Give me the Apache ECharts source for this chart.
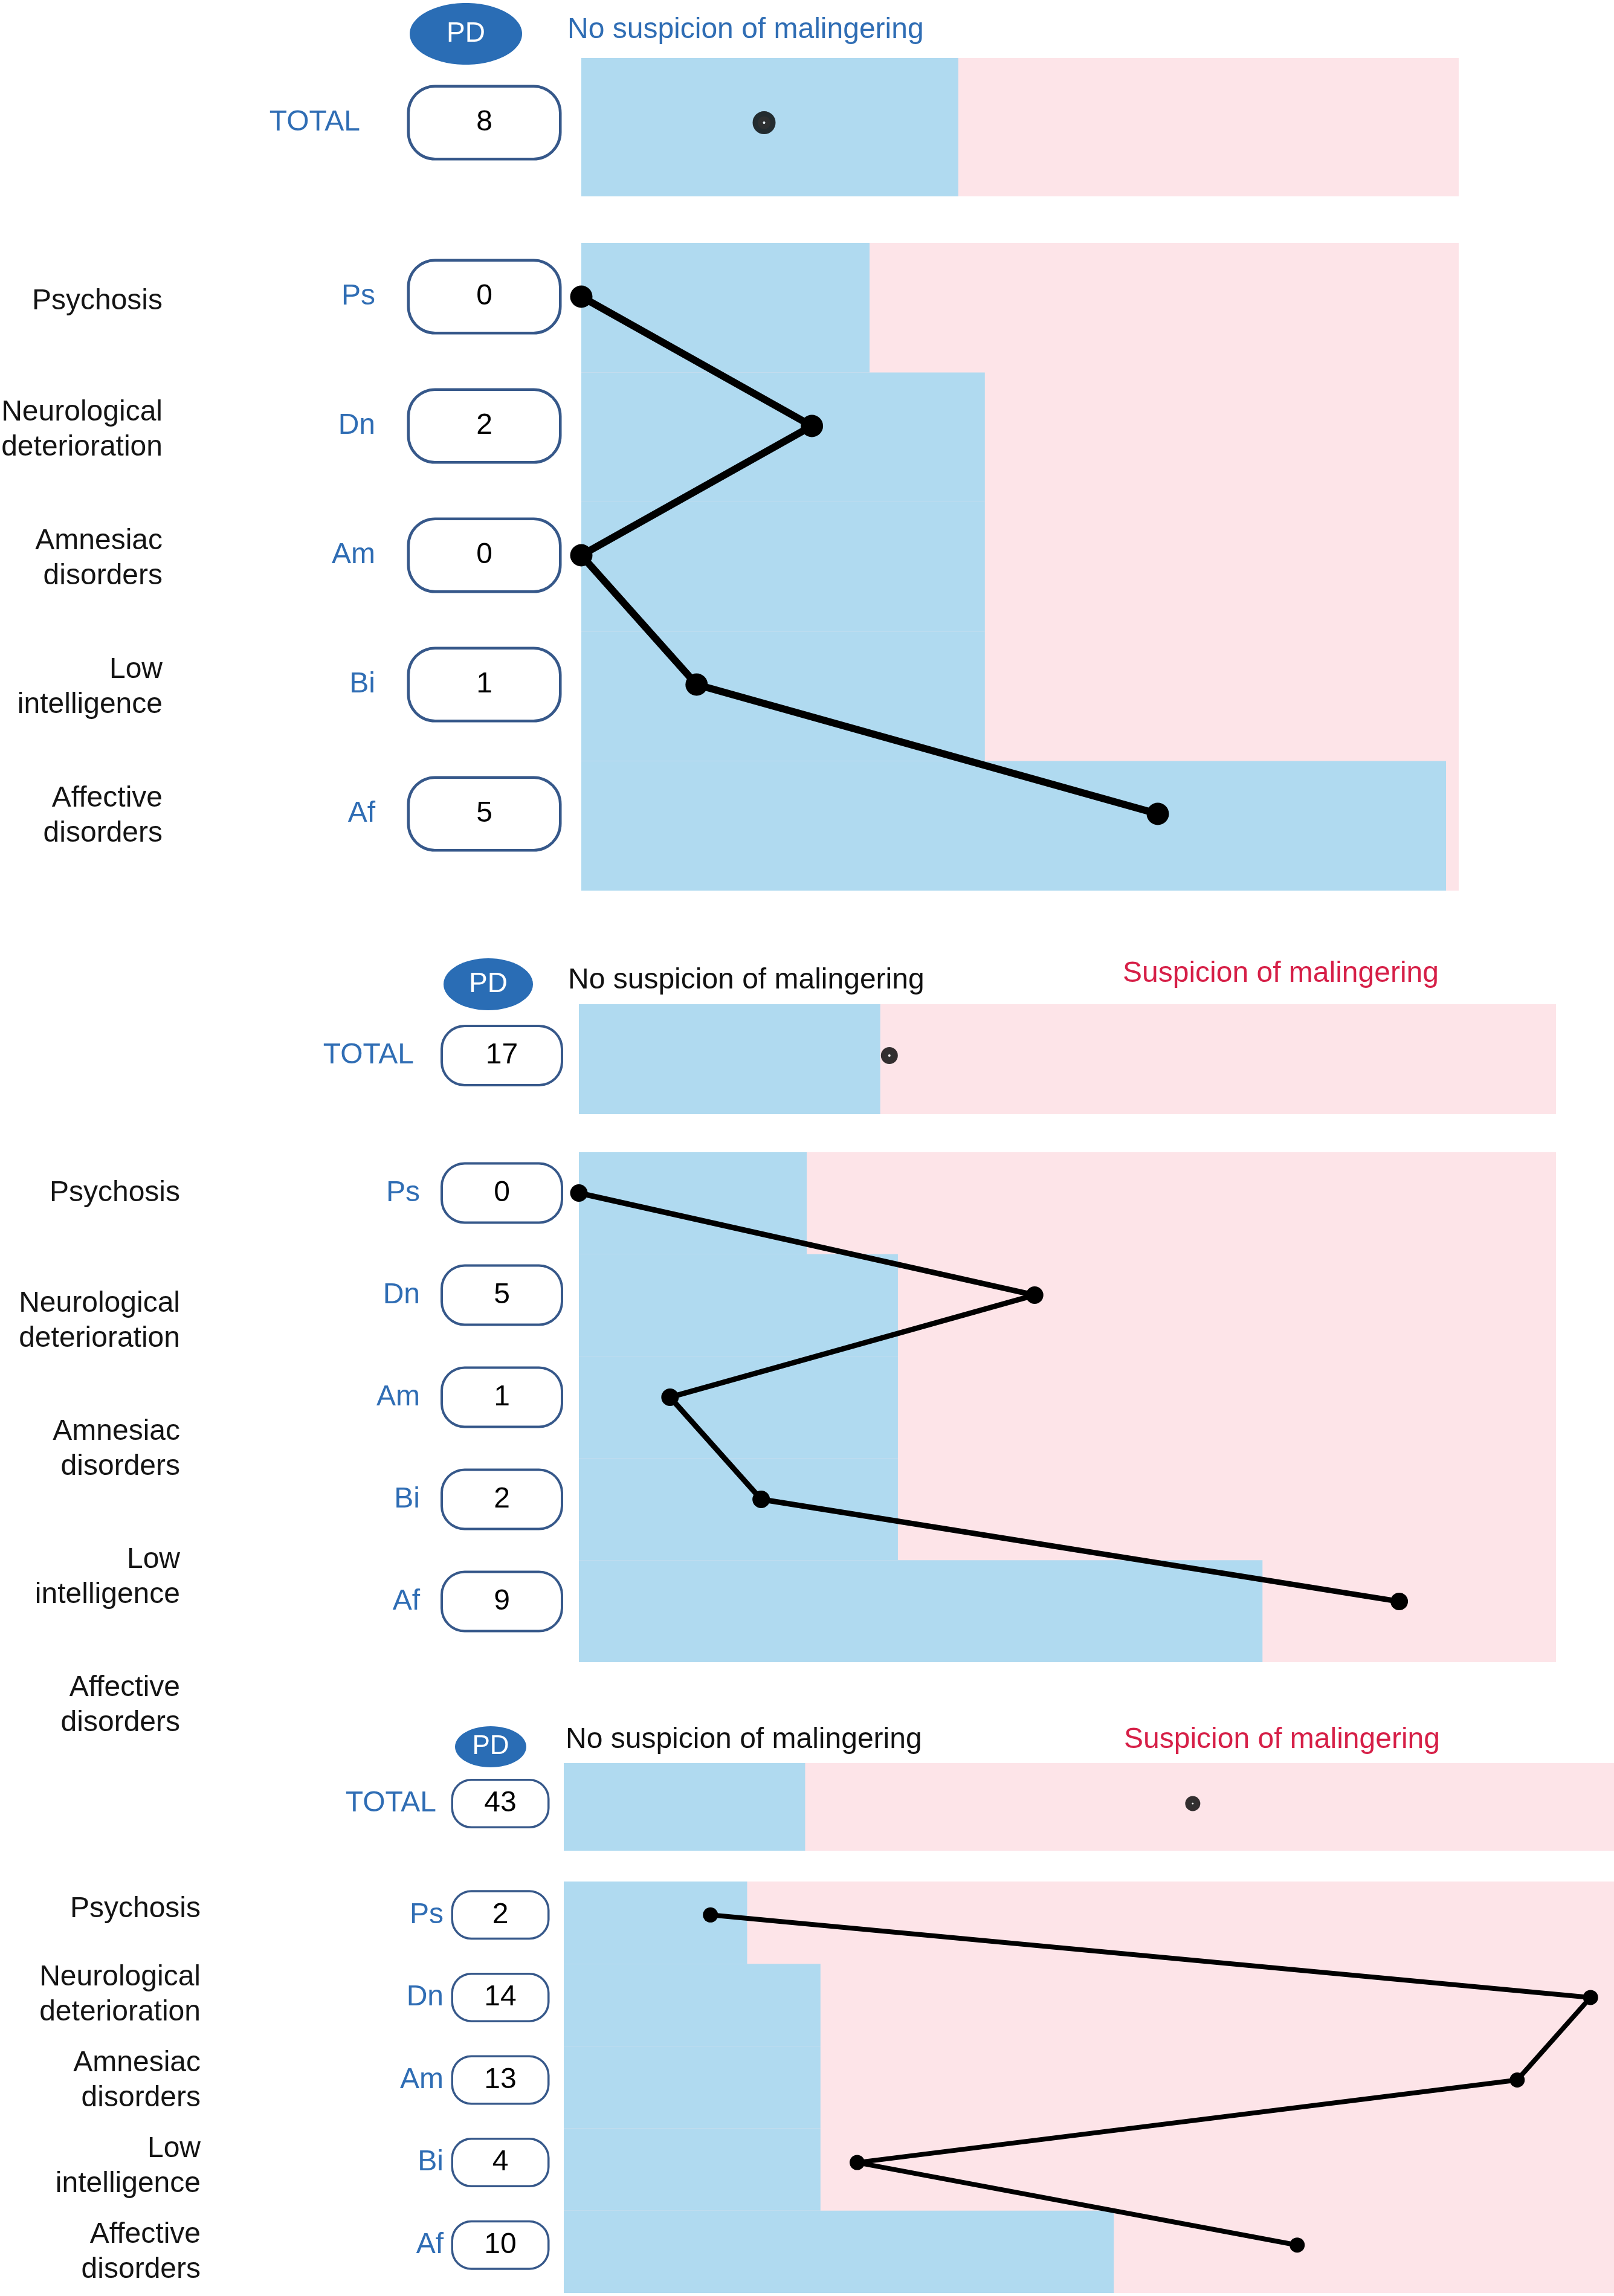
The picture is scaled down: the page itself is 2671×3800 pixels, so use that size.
<!DOCTYPE html>
<html>
<head>
<meta charset="utf-8">
<script src="https://cdn.jsdelivr.net/npm/echarts@6/dist/echarts.min.js"></script>
<style>
  html, body { margin: 0; padding: 0; background: #ffffff; }
  #chart { width: 2671px; height: 3800px; }
</style>
</head>
<body>
<div id="chart"></div>
<script>
// ---------------- DATA ----------------
const scaleCodes = ['Ps', 'Dn', 'Am', 'Bi', 'Af'];
const scaleNames = ['Psychosis', 'Neurological\ndeterioration', 'Amnesiac\ndisorders', 'Low\nintelligence', 'Affective\ndisorders'];
const scaleCutoffs = [2.5, 3.5, 3.5, 3.5, 7.5];
const totalCutoff = 16.5;
const totalLabel = 'TOTAL';
const badgeLabel = 'PD';
const headerNo = 'No suspicion of malingering';
const headerYes = 'Suspicion of malingering';

const case1Scores = [0, 2, 0, 1, 5];
const case1Total = 8;
const case2Scores = [0, 5, 1, 2, 9];
const case2Total = 17;
const case3Scores = [2, 14, 13, 4, 10];
const case3Total = 43;

// ---------------- STYLE / LAYOUT ----------------
const FONT = '"Liberation Sans", Arial, Helvetica, sans-serif';
const BLUE_TXT = '#2f6db4';
const RED_TXT = '#d61f47';
const BAND_BLUE = '#b0daf0';
const BAND_PINK = '#fde4e8';
const BOX_BORDER = '#36588a';
const BADGE_FILL = '#2a6db5';

const cases = [
  { scores: case1Scores, total: case1Total, showYes: false, noColor: BLUE_TXT },
  { scores: case2Scores, total: case2Total, showYes: true, noColor: '#111111' },
  { scores: case3Scores, total: case3Total, showYes: true, noColor: '#111111' }
];

const layouts = [
  { left: 962, right: 2414, subMax: 7.61, totMax: 38.4,
    totBand: [96, 325], totRowC: 203, subBand: [402, 1474], subRows: [384, 1070], names: [392, 1065],
    box: { w: 247, h: 116, r: 42, margin: 37, bw: 4.5 }, abbrRight: 621, totalRight: 596, nameRight: 269,
    line: 12, dot: 37, ring: [21, 17],
    pd: { cx: 771, cy: 56, rx: 93, ry: 51, fs: 46 }, hdrNo: { x: 939, y: 50 }, hdrYes: null },
  { left: 958, right: 2575, subMax: 10.72, totMax: 53.5,
    totBand: [1662, 1844], totRowC: 1747, subBand: [1907, 2751], subRows: [1890, 845], names: [1869, 1060],
    box: { w: 195, h: 94, r: 36, margin: 30, bw: 4 }, abbrRight: 695, totalRight: 685, nameRight: 298,
    line: 9, dot: 29, ring: [16, 12],
    pd: { cx: 808, cy: 1629, rx: 74, ry: 43, fs: 46 }, hdrNo: { x: 940, y: 1623 }, hdrYes: { x: 1858, y: 1612 } },
  { left: 933, right: 2671, subMax: 14.32, totMax: 71.8,
    totBand: [2918, 3063], totRowC: 2985, subBand: [3114, 3795], subRows: [3101, 683], names: [3089, 710],
    box: { w: 156, h: 75, r: 30, margin: 27, bw: 3.5 }, abbrRight: 734, totalRight: 722, nameRight: 332,
    line: 8, dot: 25, ring: [14, 11],
    pd: { cx: 812, cy: 2891, rx: 59, ry: 34, fs: 44 }, hdrNo: { x: 936, y: 2880 }, hdrYes: { x: 1860, y: 2880 } }
];

// ---------------- BUILD OPTION ----------------
const option = {
  animation: false,
  backgroundColor: '#ffffff',
  textStyle: { fontFamily: FONT },
  grid: [], xAxis: [], yAxis: [], series: [], graphic: []
};

function addGrid(g) {
  option.grid.push(Object.assign({ outerBoundsMode: 'none', containLabel: false, show: false, borderWidth: 0 }, g));
  return option.grid.length - 1;
}
function addX(gi, max) {
  option.xAxis.push({ type: 'value', gridIndex: gi, min: 0, max: max, show: false });
  return option.xAxis.length - 1;
}
function addY(gi, data, extra) {
  option.yAxis.push(Object.assign({
    type: 'category', gridIndex: gi, data: data, inverse: true,
    axisLine: { show: false }, axisTick: { show: false }, splitLine: { show: false }
  }, extra || {}));
  return option.yAxis.length - 1;
}

layouts.forEach(function (L, p) {
  const C = cases[p];
  const width = L.right - L.left;

  function boxRich() {
    return {
      b: {
        width: L.box.w, height: L.box.h, lineHeight: L.box.h,
        align: 'center', verticalAlign: 'middle',
        backgroundColor: '#ffffff', borderColor: BOX_BORDER, borderWidth: L.box.bw,
        borderRadius: L.box.r, fontSize: 48, color: '#000000', fontFamily: FONT
      }
    };
  }

  // ---- TOTAL band ----
  const gTB = addGrid({ left: L.left, width: width, top: L.totBand[0], height: L.totBand[1] - L.totBand[0], show: true, backgroundColor: BAND_PINK });
  const xTB = addX(gTB, L.totMax);
  const yTB = addY(gTB, [totalLabel], { show: false });
  option.series.push({ type: 'bar', xAxisIndex: xTB, yAxisIndex: yTB, data: [totalCutoff], barWidth: '100%',
    itemStyle: { color: BAND_BLUE }, silent: true, z: 1 });

  // ---- TOTAL point row ----
  const gTP = addGrid({ left: L.left, width: width, top: L.totRowC - 50, height: 100 });
  const xTP = addX(gTP, L.totMax);
  const yTP = addY(gTP, [totalLabel], {
    position: 'left', offset: 0,
    axisLabel: { interval: 0, margin: L.box.margin, formatter: function () { return '{b|' + C.total + '}'; }, rich: boxRich() }
  });
  addY(gTP, [totalLabel], {
    position: 'left', offset: L.left - L.totalRight,
    axisLabel: { interval: 0, margin: 0, color: BLUE_TXT, fontSize: 48, fontFamily: FONT }
  });
  option.series.push({ type: 'scatter', xAxisIndex: xTP, yAxisIndex: yTP, data: [[C.total, 0]],
    symbol: 'circle', symbolSize: L.ring[0], clip: false,
    itemStyle: { color: '#f2f2f2', borderColor: '#000000', borderWidth: L.ring[1] }, z: 6, silent: true });

  // ---- Subscale bands ----
  const gSB = addGrid({ left: L.left, width: width, top: L.subBand[0], height: L.subBand[1] - L.subBand[0], show: true, backgroundColor: BAND_PINK });
  const xSB = addX(gSB, L.subMax);
  const ySB = addY(gSB, scaleCodes, { show: false });
  option.series.push({ type: 'bar', xAxisIndex: xSB, yAxisIndex: ySB, data: scaleCutoffs, barWidth: '100%',
    itemStyle: { color: BAND_BLUE }, silent: true, z: 1 });

  // ---- Subscale points ----
  const gSP = addGrid({ left: L.left, width: width, top: L.subRows[0], height: L.subRows[1] });
  const xSP = addX(gSP, L.subMax);
  const ySP = addY(gSP, scaleCodes, {
    position: 'left', offset: 0,
    axisLabel: { interval: 0, margin: L.box.margin, formatter: function (v, i) { return '{b|' + C.scores[i] + '}'; }, rich: boxRich() }
  });
  addY(gSP, scaleCodes, {
    position: 'left', offset: L.left - L.abbrRight,
    axisLabel: { interval: 0, margin: 0, color: BLUE_TXT, fontSize: 48, fontFamily: FONT }
  });
  option.series.push({ type: 'line', xAxisIndex: xSP, yAxisIndex: ySP,
    data: C.scores.map(function (v, i) { return [v, i]; }),
    symbol: 'circle', symbolSize: L.dot, showSymbol: true, clip: false,
    lineStyle: { color: '#000000', width: L.line }, itemStyle: { color: '#000000' }, z: 5, silent: true });

  // ---- Scale names ----
  const gN = addGrid({ left: L.nameRight, width: 10, top: L.names[0], height: L.names[1] });
  addX(gN, 1);
  addY(gN, scaleNames, {
    position: 'left', offset: 0,
    axisLabel: { interval: 0, margin: 0, color: '#141414', fontSize: 48, lineHeight: 58, fontFamily: FONT, align: 'right' }
  });

  // ---- Headers ----
  option.graphic.push({ type: 'ellipse', shape: { cx: L.pd.cx, cy: L.pd.cy, rx: L.pd.rx, ry: L.pd.ry },
    style: { fill: BADGE_FILL }, z: 10, silent: true });
  option.graphic.push({ type: 'text', x: L.pd.cx, y: L.pd.cy, z: 11, silent: true,
    style: { text: badgeLabel, fill: '#ffffff', font: L.pd.fs + 'px ' + FONT, align: 'center', verticalAlign: 'middle', textAlign: 'center', textVerticalAlign: 'middle' } });
  option.graphic.push({ type: 'text', x: L.hdrNo.x, y: L.hdrNo.y, z: 11, silent: true,
    style: { text: headerNo, fill: C.noColor, font: '48px ' + FONT, align: 'left', verticalAlign: 'middle', textAlign: 'left', textVerticalAlign: 'middle' } });
  if (C.showYes && L.hdrYes) {
    option.graphic.push({ type: 'text', x: L.hdrYes.x, y: L.hdrYes.y, z: 11, silent: true,
      style: { text: headerYes, fill: RED_TXT, font: '48px ' + FONT, align: 'left', verticalAlign: 'middle', textAlign: 'left', textVerticalAlign: 'middle' } });
  }
});

const chart = echarts.init(document.getElementById('chart'), null, { renderer: 'canvas' });
chart.setOption(option);
</script>
</body>
</html>
